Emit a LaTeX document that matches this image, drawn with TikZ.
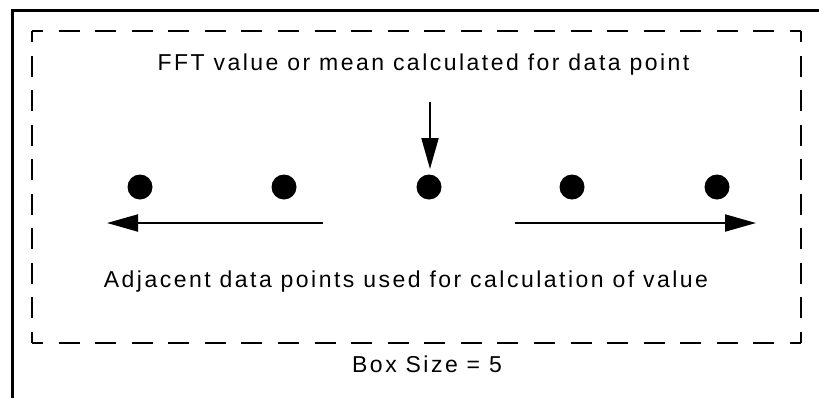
\documentclass[tikz,border=0pt]{standalone}
\usepackage{fontspec}
\setmainfont{Liberation Sans}[LetterSpace=10.8]
\usetikzlibrary{arrows.meta}
\tikzset{
  frame/.style={line width=2.8pt, line cap=rect},
  dashside/.style={line width=2pt, dash pattern=on 21pt off #1, dash phase=10pt},
  dot/.style={circle, fill=black, inner sep=0pt, minimum size=25pt},
  arr/.style={line width=2pt, -{Triangle[length=31pt,width=17pt]}},
  lbl/.style={inner sep=0pt, font=\fontsize{23}{27}\selectfont, anchor=base}
}
\begin{document}
\begin{tikzpicture}[x=1pt,y=-1pt]
\useasboundingbox (0,0) rectangle (819,397);
% outer frame
\draw[frame] (12.5,397) -- (12.5,10.7) -- (819,10.7);
% dashed box
\coordinate (tl) at (32,31);
\coordinate (tr) at (801,31);
\coordinate (br) at (801,343);
\coordinate (bl) at (32,343);
\draw[dashside=15.57pt] (tl) -- (tr);
\draw[dashside=15.57pt] (bl) -- (br);
\draw[dashside=13.56pt] (tl) -- (bl);
\draw[dashside=13.56pt] (tr) -- (br);
% texts
\node[lbl] (top) at (423.5,70) {FFT value or mean calculated for data point};
\node[lbl] (adj) at (406,287) {Adjacent data points used for calculation of value};
\node[lbl] (box) at (427,372) {Box Size = 5};
% dots
\node[dot] (d1) at (140,187) {};
\node[dot] (d2) at (284,187) {};
\node[dot] (d3) at (429,187) {};
\node[dot] (d4) at (572,187) {};
\node[dot] (d5) at (717,187) {};
% arrows
\coordinate (ds) at (430,102);
\coordinate (de) at (430,169);
\draw[arr] (ds) -- (de);
\coordinate (ls) at (323,223);
\coordinate (le) at (107,223);
\draw[arr] (ls) -- (le);
\coordinate (rs) at (515,223);
\coordinate (re) at (756,223);
\draw[arr] (rs) -- (re);
\end{tikzpicture}
\end{document}
